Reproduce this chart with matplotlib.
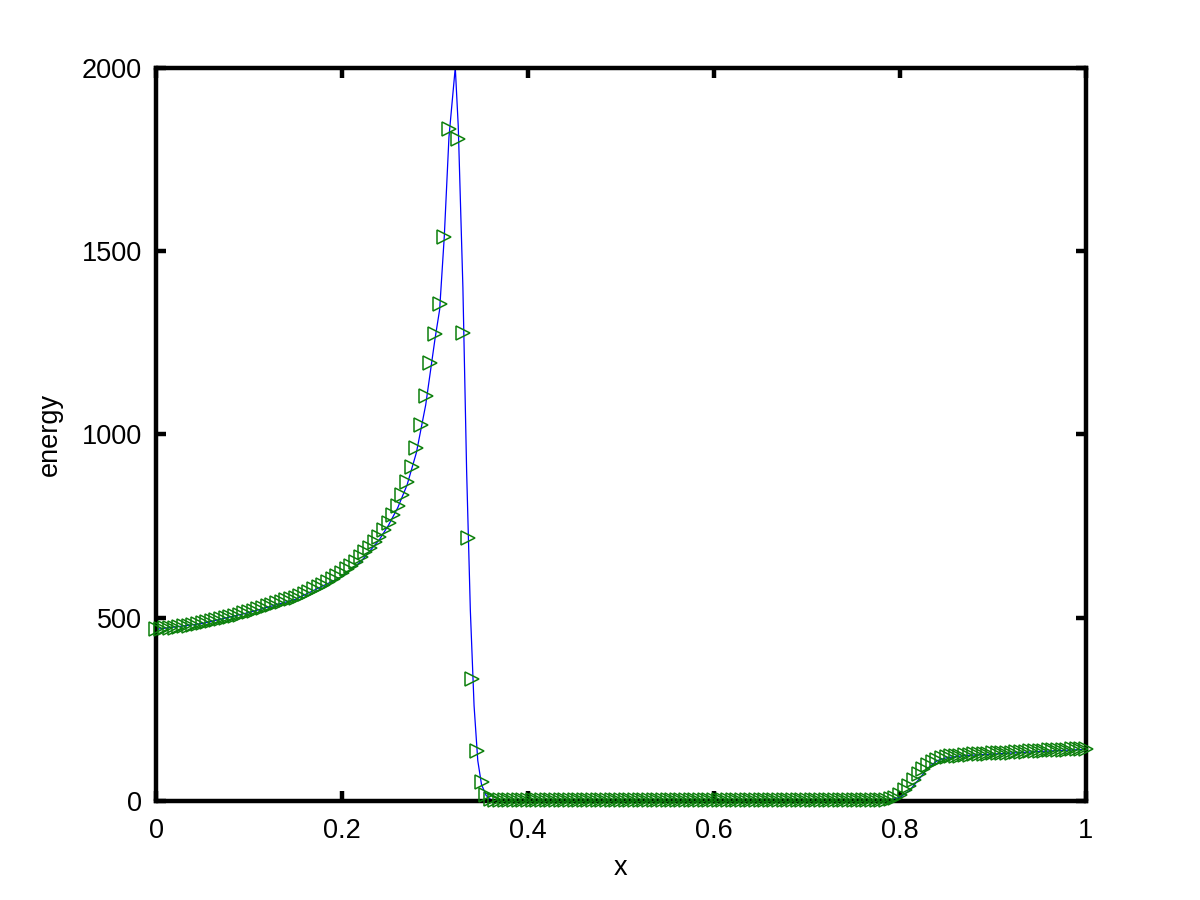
import numpy as np
import matplotlib
matplotlib.use("Agg")
import matplotlib.pyplot as plt

# ---- data: numerical solution (markers) on a uniform grid, dx = 0.005 ----
x_markers = np.linspace(0.0, 1.0, 201)
energy_markers = np.array([
    470, 470, 471, 472, 473, 474, 476, 478, 480, 482,
    484, 487, 490, 493, 496, 499, 502, 505, 508, 512,
    516, 519, 523, 527, 531, 535, 539, 543, 547, 550,
    554, 559, 565, 570, 577, 583, 590, 598, 606, 614,
    623, 632, 642, 653, 665, 678, 689, 705, 721, 739,
    758, 780, 805, 835, 871, 912, 962, 1024, 1105, 1193,
    1272, 1356, 1537, 1831, np.nan, 1804, 1275, 717, 333, 136,
    51, 16, 5, 3, 2, 2, 2, 2, 2, 2,
    2, 2, 2, 2, 2, 2, 2, 2, 2, 2,
    2, 2, 2, 2, 2, 2, 2, 2, 2, 2,
    2, 2, 2, 2, 2, 2, 2, 2, 2, 2,
    2, 2, 2, 2, 2, 2, 2, 2, 2, 2,
    2, 2, 2, 2, 2, 2, 2, 2, 2, 2,
    2, 2, 2, 2, 2, 2, 2, 2, 2, 2,
    2, 2, 2, 2, 2, 2, 2, 2, 2, 2,
    2, 2, 2, 2, 2, 2, 2, 3, 5, 9,
    17, 29, 42, 57, 73, 87, 99, 107, 113, 117,
    120, 122, 123, 124, 125, 126, 127, 127, 128, 129,
    130, 130, 131, 132, 132, 133, 134, 134, 135, 136,
    136, 137, 138, 138, 139, 140, 140, 141, 142, 142,
    143,
], dtype=float)

# ---- data: reference solution (blue line) ----
x_line = [0.0, 0.05, 0.10, 0.15, 0.20, 0.22, 0.24, 0.25, 0.26, 0.27,
          0.28, 0.29, 0.30, 0.305, 0.31, 0.315, 0.3218, 0.325, 0.33, 0.334,
          0.338, 0.342, 0.346, 0.35, 0.355, 0.36, 0.37, 0.78, 0.79, 0.80,
          0.81, 0.82, 0.83, 0.84, 0.85, 0.87, 0.90, 0.95, 1.0]
energy_line = [468, 484, 514, 550, 612, 652, 712, 752, 800, 862,
               950, 1080, 1260, 1340, 1540, 1810, 2000, 1840, 1400, 900,
               520, 260, 110, 45, 15, 4, 1, 1, 3, 10,
               28, 58, 90, 110, 118, 124, 128, 135, 141]

x_ticks = [0, 0.2, 0.4, 0.6, 0.8, 1.0]
x_tick_labels = ["0", "0.2", "0.4", "0.6", "0.8", "1"]
y_ticks = [0, 500, 1000, 1500, 2000]
y_tick_labels = ["0", "500", "1000", "1500", "2000"]

plt.rcParams['font.family'] = ['Liberation Sans', 'DejaVu Sans']

fig = plt.figure(figsize=(12, 9), dpi=100)
ax = fig.add_axes([0.13, 0.11, 0.775, 0.815])

ax.plot(x_line, energy_line, color=(0, 0, 1), linewidth=0.9, zorder=2)
ax.plot(x_markers, energy_markers, linestyle='none', marker='>',
        markersize=10.5, markerfacecolor='none', markeredgecolor=(0.05, 0.5, 0.05),
        markeredgewidth=1.1, clip_on=False, zorder=3)

ax.set_xlim(0, 1)
ax.set_ylim(0, 2000)
ax.set_xticks(x_ticks)
ax.set_xticklabels(x_tick_labels)
ax.set_yticks(y_ticks)
ax.set_yticklabels(y_tick_labels)

for s in ax.spines.values():
    s.set_linewidth(3.2)
ax.tick_params(direction='in', length=7, width=3.2, labelsize=19.5,
               top=True, right=True, pad=10)
ax.tick_params(axis='x', pad=12)

ax.set_xlabel('x', fontsize=19.5, labelpad=8)
ax.set_ylabel('energy', fontsize=19.5, labelpad=14)

fig.savefig('out.png', dpi=100)
